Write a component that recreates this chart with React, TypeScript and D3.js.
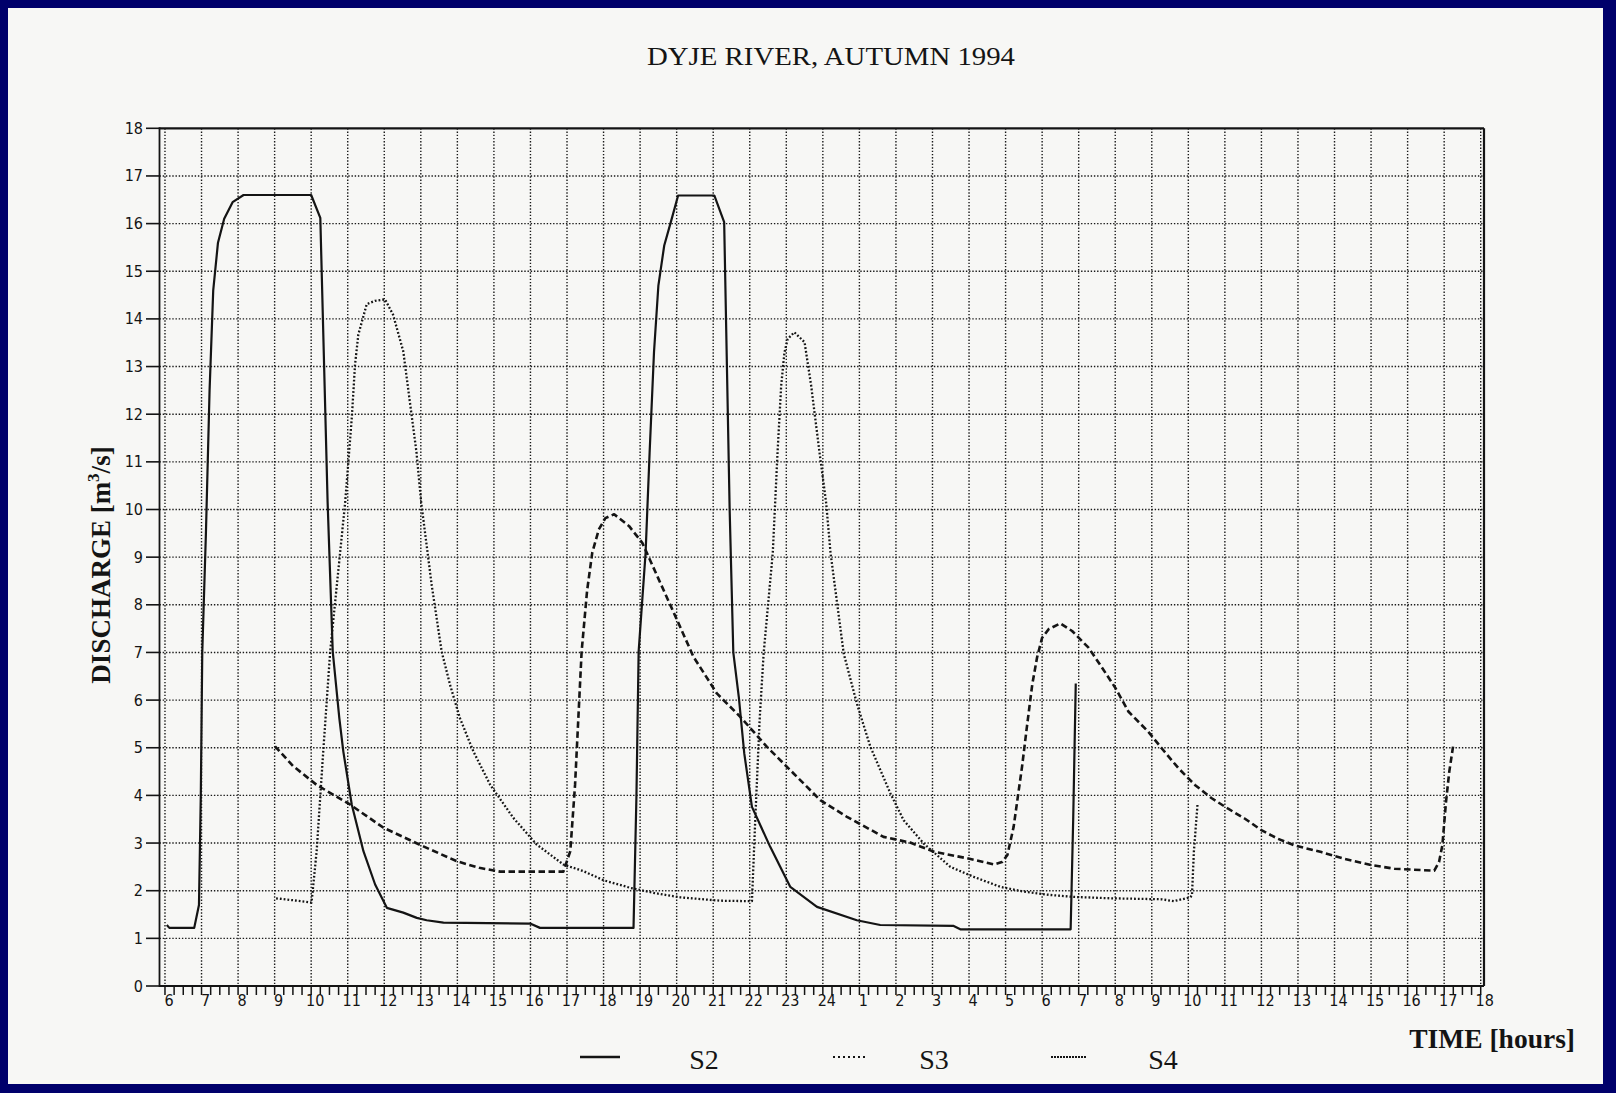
import { useEffect } from 'react';
import * as d3 from 'd3';

// time axis: hours after 06:00 of the first day
const hourLabels = [
  '6', '7', '8', '9', '10', '11', '12', '13', '14', '15', '16', '17', '18', '19', '20', '21', '22', '23', '24',
  '1', '2', '3', '4', '5', '6', '7', '8', '9', '10', '11', '12', '13', '14', '15', '16', '17', '18',
];
const flowTicks = d3.range(0, 19);

const s2Hours = [0.05, 0.12, 0.8, 0.93, 0.98, 1.02, 1.12, 1.22, 1.32, 1.45, 1.62, 1.85, 2.15, 4.0, 4.25, 4.45, 4.59, 4.77, 4.88, 5.11, 5.43, 5.75, 6.07, 6.52, 6.89, 7.16, 7.62, 9.99, 10.26, 12.82, 12.9, 12.96, 13.15, 13.26, 13.38, 13.5, 13.66, 13.84, 14.04, 15.03, 15.3, 15.45, 15.55, 15.7, 15.85, 16.06, 16.56, 17.11, 17.84, 18.93, 19.57, 21.58, 21.76, 24.78, 24.85, 24.92];
const s2Flow = [1.28, 1.22, 1.22, 1.7, 4.0, 7.0, 9.5, 12.5, 14.6, 15.6, 16.1, 16.45, 16.6, 16.6, 16.12, 10.15, 7.02, 5.62, 4.92, 3.81, 2.83, 2.13, 1.64, 1.54, 1.43, 1.38, 1.33, 1.31, 1.22, 1.22, 4.0, 7.02, 9.09, 11.19, 13.3, 14.7, 15.54, 16.03, 16.59, 16.59, 16.03, 10.0, 7.0, 6.07, 4.88, 3.76, 2.92, 2.08, 1.66, 1.38, 1.28, 1.26, 1.19, 1.19, 3.5, 6.35];

const s3Hours = [3.04, 3.5, 4.01, 4.15, 4.33, 4.52, 4.93, 5.11, 5.2, 5.29, 5.52, 5.75, 6.02, 6.24, 6.52, 6.7, 6.88, 7.01, 7.3, 7.57, 7.8, 8.07, 8.44, 8.9, 9.53, 10.17, 10.9, 11.45, 12.0, 12.73, 13.4, 14.1, 15.19, 16.06, 16.15, 16.27, 16.38, 16.63, 16.76, 16.86, 16.95, 17.04, 17.22, 17.5, 17.68, 17.91, 18.09, 18.21, 18.57, 18.93, 19.3, 19.85, 20.21, 20.76, 21.49, 22.13, 22.86, 23.5, 24.23, 24.86, 25.9, 27.27, 27.6, 28.05, 28.1, 28.15, 28.25];
const s3Flow = [1.84, 1.8, 1.75, 2.83, 4.92, 7.02, 10.15, 11.91, 13.04, 13.67, 14.31, 14.38, 14.41, 14.09, 13.32, 12.26, 11.21, 10.15, 8.4, 7.02, 6.32, 5.62, 4.92, 4.22, 3.53, 2.97, 2.55, 2.41, 2.22, 2.06, 1.95, 1.86, 1.79, 1.78, 3.48, 5.58, 6.98, 9.09, 11.19, 12.6, 13.3, 13.58, 13.72, 13.51, 12.6, 11.19, 10.14, 9.09, 6.98, 5.93, 5.02, 4.04, 3.48, 2.99, 2.5, 2.29, 2.08, 1.98, 1.91, 1.87, 1.84, 1.82, 1.78, 1.86, 1.9, 2.8, 3.8];

const s4Hours = [3.01, 3.5, 4.15, 5.06, 5.98, 7.07, 7.98, 8.6, 9.17, 10.9, 11.09, 11.22, 11.31, 11.4, 11.55, 11.69, 11.87, 12.05, 12.29, 12.7, 13.06, 13.5, 14.0, 14.46, 15.1, 15.74, 16.47, 17.2, 17.93, 18.66, 19.66, 20.39, 21.03, 21.95, 22.68, 22.9, 23.05, 23.22, 23.45, 23.59, 23.73, 23.86, 24.0, 24.18, 24.5, 24.82, 25.27, 25.64, 26.0, 26.36, 26.9, 27.27, 27.73, 28.18, 28.64, 29.09, 29.55, 30.0, 30.45, 30.91, 31.64, 32.27, 33.0, 33.64, 34.73, 34.86, 34.95, 35.05, 35.14, 35.25];
const s4Flow = [5.03, 4.62, 4.22, 3.81, 3.32, 2.93, 2.62, 2.48, 2.4, 2.4, 2.83, 4.22, 5.62, 7.02, 8.3, 9.09, 9.58, 9.82, 9.9, 9.65, 9.3, 8.55, 7.7, 6.91, 6.14, 5.65, 5.02, 4.46, 3.9, 3.55, 3.13, 3.01, 2.82, 2.68, 2.55, 2.6, 2.75, 3.34, 4.6, 5.48, 6.33, 6.89, 7.31, 7.49, 7.61, 7.45, 7.1, 6.68, 6.26, 5.76, 5.34, 4.99, 4.57, 4.22, 3.94, 3.72, 3.51, 3.27, 3.09, 2.95, 2.81, 2.67, 2.54, 2.46, 2.42, 2.6, 2.95, 3.86, 4.5, 5.06];

const seriesNames = ['S2', 'S3', 'S4'];

const SERIF = "'Liberation Serif', 'Times New Roman', serif";
const NARROW = "'Liberation Sans Narrow', 'Arial Narrow', 'DejaVu Sans Condensed', sans-serif";
const INK = '#141414';

export default function App() {
  useEffect(() => { document.body.style.margin = '0'; }, []);

  const W = 1616, H = 1093;
  const x = d3.scaleLinear().domain([-0.15, 36.09]).range([159.5, 1484]);
  const y = d3.scaleLinear().domain([0, 18]).range([986, 128.3]);

  const line = d3.line<[number, number]>()
    .x(d => x(d[0])).y(d => y(d[1]))
    .curve(d3.curveLinear);

  const s2 = line(d3.zip(s2Hours, s2Flow) as [number, number][]) ?? '';
  const s3 = line(d3.zip(s3Hours, s3Flow) as [number, number][]) ?? '';
  const s4 = line(d3.zip(s4Hours, s4Flow) as [number, number][]) ?? '';

  const hours = d3.range(0, 37);
  const quarters = d3.range(0, 36.01, 0.25);
  const left = x(-0.15), right = x(36.09);

  // legend geometry
  const legend = [
    { name: seriesNames[0], x1: 580, x2: 620, tx: 704, dash: undefined as string | undefined, w: 2.4 },
    { name: seriesNames[1], x1: 833, x2: 868, tx: 934, dash: '2 3', w: 2.2 },
    { name: seriesNames[2], x1: 1051, x2: 1086, tx: 1163, dash: '2 1', w: 2.2 },
  ];

  return (
    <svg width={W} height={H} viewBox={`0 0 ${W} ${H}`} style={{ display: 'block' }}>
      <rect x={0} y={0} width={W} height={H} fill="#00006b" />
      <rect x={8} y={8} width={1595} height={1076} fill="#f7f7f5" />

      <text x={831} y={65} textAnchor="middle" fontFamily={SERIF} fontSize={26}
        textLength={368} lengthAdjust="spacingAndGlyphs" fill={INK}>
        DYJE RIVER, AUTUMN 1994
      </text>

      {/* dotted grid */}
      <g stroke="#1a1a1a" strokeWidth={1.4} strokeDasharray="1.4 1.8">
        {flowTicks.filter(v => v > 0 && v < 18).map(v => (
          <line key={`h${v}`} x1={left} x2={right} y1={y(v)} y2={y(v)} />
        ))}
        {hours.map(h => (
          <line key={`v${h}`} x1={x(h)} x2={x(h)} y1={y(18)} y2={y(0)} />
        ))}
      </g>

      {/* frame and axes */}
      <g stroke={INK} fill="none">
        <line x1={left} x2={left} y1={y(18) - 1} y2={y(0) + 1} strokeWidth={1.8} />
        <line x1={left} x2={right} y1={y(18)} y2={y(18)} strokeWidth={2.2} />
        <line x1={right} x2={right} y1={y(18)} y2={y(0)} strokeWidth={2.2} />
        <line x1={left} x2={right} y1={y(0)} y2={y(0)} strokeWidth={2.2} />
        {flowTicks.map(v => (
          <line key={`yt${v}`} x1={146} x2={left} y1={y(v)} y2={y(v)} strokeWidth={1.6} />
        ))}
        {quarters.map(q => (
          <line key={`xt${q}`} x1={x(q)} x2={x(q)} y1={y(0)} y2={y(0) + 9} strokeWidth={1.5} />
        ))}
      </g>

      <g fontFamily={NARROW} fontSize={16} fill={INK}>
        {flowTicks.map(v => (
          <text key={`yl${v}`} x={143} y={y(v) + 5.5} textAnchor="end">{v}</text>
        ))}
        {hours.map(h => (
          <text key={`xl${h}`} x={x(h) + 4} y={1006} textAnchor="middle">{hourLabels[h]}</text>
        ))}
      </g>

      {/* series */}
      <path d={s4} fill="none" stroke={INK} strokeWidth={2.6} strokeDasharray="6.5 3.5" strokeLinejoin="round" />
      <path d={s3} fill="none" stroke={INK} strokeWidth={2.3} strokeDasharray="1.8 2" strokeLinejoin="round" />
      <path d={s2} fill="none" stroke={INK} strokeWidth={2.2} strokeLinejoin="round" />

      <text transform="translate(110,565) rotate(-90)" textAnchor="middle" fontFamily={SERIF}
        fontSize={27} fontWeight="bold" fill={INK}>
        DISCHARGE [m<tspan fontSize={17} dy={-11}>3</tspan><tspan dy={11}>/s]</tspan>
      </text>

      <text x={1575} y={1048} textAnchor="end" fontFamily={SERIF} fontSize={27.5} fontWeight="bold" fill={INK}>
        TIME [hours]
      </text>

      {legend.map(l => (
        <g key={l.name}>
          <line x1={l.x1} x2={l.x2} y1={1057} y2={1057} stroke={INK} strokeWidth={l.w} strokeDasharray={l.dash} />
          <text x={l.tx} y={1069} textAnchor="middle" fontFamily={SERIF} fontSize={28} fill={INK}>{l.name}</text>
        </g>
      ))}
    </svg>
  );
}
